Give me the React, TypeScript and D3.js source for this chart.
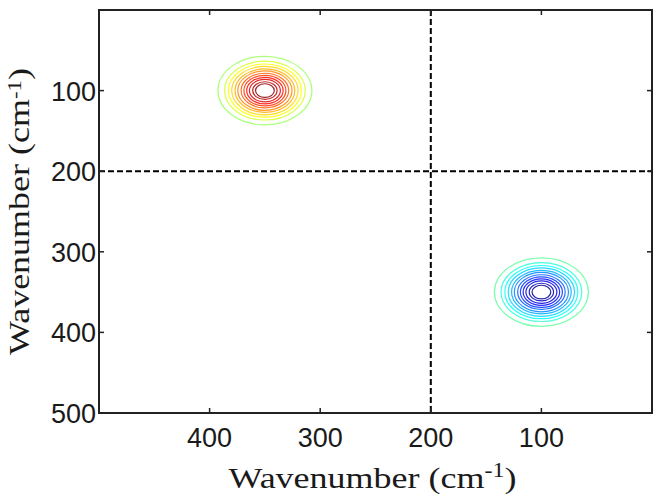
import React from 'react';
import * as d3 from 'd3';

// axes
const xDomain = [500, 0];
const yDomain = [0, 500];
const xTicks = [400, 300, 200, 100];
const yTicks = [100, 200, 300, 400, 500];

// cross-peak guide lines
const crossX = [200];
const crossY = [200];

// the two correlation peaks
const peakX = [350, 100];
const peakY = [100, 350];
const peakSign = [1, -1];

// contour rings: radius (cm-1) and level (fraction of max)
const ringRadius = [42.5, 36.5, 33, 30, 27, 24.5, 21.5, 19, 16.5, 14, 11, 8.5];
const ringLevel = [0.06, 0.17, 0.25, 0.33, 0.41, 0.49, 0.57, 0.65, 0.73, 0.81, 0.89, 0.97];

// jet colormap stops
const jetStops = [-1, -0.75, -0.25, 0, 0.25, 0.75, 1];
const jetColors = ['#000080', '#0000ff', '#00ffff', '#80ff80', '#ffff00', '#ff0000', '#800000'];

const W = 657;
const H = 494;
const left = 99;
const right = 652;
const top = 10;
const bottom = 413;

const App = () => {
  const x = d3.scaleLinear().domain(xDomain).range([left, right]);
  const y = d3.scaleLinear().domain(yDomain).range([top, bottom]);
  const jet = d3.scaleLinear<string>().domain(jetStops).range(jetColors).interpolate(d3.interpolateRgb);
  const tick = 5;

  return (
    <svg width={W} height={H} style={{ position: 'absolute', left: 0, top: 0, background: '#fff' }}>
      {/* contours */}
      {peakX.map((px, p) => (
        <g key={'peak' + p} opacity={0.85}>
          {ringRadius.map((r, i) => (
            <ellipse
              key={i}
              cx={x(px)}
              cy={y(peakY[p])}
              rx={Math.abs(x(px + r) - x(px))}
              ry={Math.abs(y(peakY[p] + r) - y(peakY[p]))}
              fill="none"
              stroke={jet(peakSign[p] * ringLevel[i])}
              strokeWidth={1.2}
            />
          ))}
        </g>
      ))}

      {/* dashed guides */}
      {crossX.map((v) => (
        <line key={'vx' + v} x1={x(v)} x2={x(v)} y1={top} y2={bottom} stroke="#000" strokeWidth={2} strokeDasharray="6,3" />
      ))}
      {crossY.map((v) => (
        <line key={'hy' + v} x1={left} x2={right} y1={y(v)} y2={y(v)} stroke="#000" strokeWidth={2} strokeDasharray="6,3" />
      ))}

      {/* frame */}
      <rect x={left} y={top} width={right - left} height={bottom - top} fill="none" stroke="#222" strokeWidth={2} />

      {/* x ticks */}
      {xTicks.map((v) => (
        <g key={'xt' + v}>
          <line x1={x(v)} x2={x(v)} y1={bottom} y2={bottom - tick} stroke="#222" strokeWidth={1.5} />
          <line x1={x(v)} x2={x(v)} y1={top} y2={top + tick} stroke="#222" strokeWidth={1.5} />
          <text x={x(v)} y={447} textAnchor="middle" fontFamily="'Liberation Sans', Arial, sans-serif" fontSize={27} fill="#1a1a1a">
            {v}
          </text>
        </g>
      ))}

      {/* y ticks */}
      {yTicks.map((v) => (
        <g key={'yt' + v}>
          <line x1={left} x2={left + tick} y1={y(v)} y2={y(v)} stroke="#222" strokeWidth={1.5} />
          <line x1={right} x2={right - tick} y1={y(v)} y2={y(v)} stroke="#222" strokeWidth={1.5} />
          <text x={96} y={y(v) + 10} textAnchor="end" fontFamily="'Liberation Sans', Arial, sans-serif" fontSize={27} fill="#1a1a1a">
            {v}
          </text>
        </g>
      ))}

      {/* axis titles */}
      <g transform={`translate(${(left + right) / 2 - 3},488) scale(1.2,1)`}>
        <text textAnchor="middle" fontFamily="'Liberation Serif', 'Times New Roman', serif" fontSize={30} fill="#1a1a1a">
          Wavenumber (cm<tspan dy={-11} fontSize={20}>-1</tspan><tspan dy={11}>)</tspan>
        </text>
      </g>
      <g transform={`translate(29,${(top + bottom) / 2}) rotate(-90) scale(1.2,1)`}>
        <text textAnchor="middle" fontFamily="'Liberation Serif', 'Times New Roman', serif" fontSize={30} fill="#1a1a1a">
          Wavenumber (cm<tspan dy={-8} fontSize={19}>-1</tspan><tspan dy={8}>)</tspan>
        </text>
      </g>
    </svg>
  );
};

export default App;
